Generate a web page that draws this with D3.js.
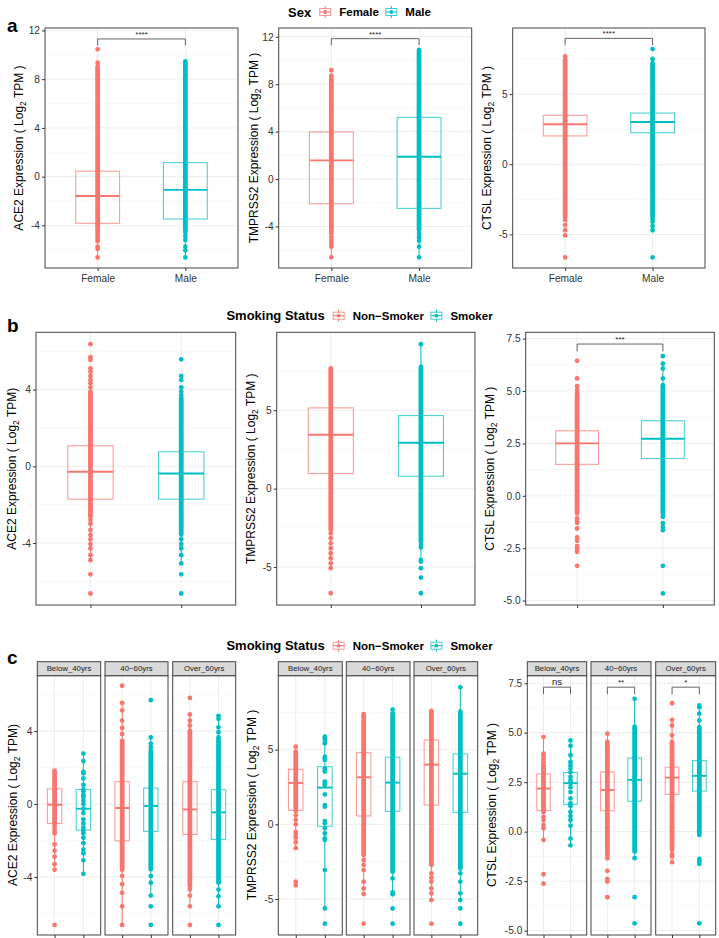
<!DOCTYPE html>
<html>
<head>
<meta charset="utf-8">
<script src="https://cdn.jsdelivr.net/npm/d3@7"></script>
<style>
  body { margin: 0; background: #fff; }
  svg { display: block; }
  text { font-family: "Liberation Sans", Arial, sans-serif; }
</style>
</head>
<body>
<div id="chart"></div>
<script>
// Figure size
const W = 719, H = 938;
const red = "#F8766D", teal = "#00BFC4";

// Group levels
const sexLevels = ["Female", "Male"];
const smokeLevels = ["Non−Smoker", "Smoker"];
const ageLevels = ["Below_40yrs", "40−60yrs", "Over_60yrs"];

// Tick values / labels
const ticks4 = [-4, 0, 4, 8, 12];
const ticks4Labels = ["-4", "0", "4", "8", "12"];
const ticksAce2 = [-4, 0, 4];
const ticksAce2Labels = ["-4", "0", "4"];
const ticks5 = [-5, 0, 5];
const ticks5Labels = ["-5", "0", "5"];
const ticksCtsl = [-5, -2.5, 0, 2.5, 5, 7.5];
const ticksCtslLabels = ["-5.0", "-2.5", "0.0", "2.5", "5.0", "7.5"];

// ---- panel a (Sex) ----  box = [whiskerLow, q1, median, q3, whiskerHigh]
const aAce2Box = [[-6.63, -3.83, -1.59, 0.44, 6.8], [-6.63, -3.48, -1.09, 1.15, 8.0]];
const aAce2Dense = [[-4.5, 9.05], [-4.4, 9.3]];
const aAce2Pts = [[10.45, 9.35, -4.7, -4.9, -5.1, -5.3, -5.75, -5.95, -6.63],
                  [9.45, -4.6, -4.9, -5.2, -5.75, -6.05, -6.63]];
const aTmpBox = [[-6.63, -2.08, 1.58, 3.97, 9.18], [-6.6, -2.47, 1.88, 5.2, 10.95]];
const aTmpDense = [[-4.6, 8.45], [-4.3, 10.9]];
const aTmpPts = [[9.18, 8.7, -4.9, -5.2, -5.45, -5.7, -6.6], [-4.6, -4.9, -5.2, -5.7, -6.6]];
const aCtslBox = [[-0.18, 2.02, 2.85, 3.49, 5.7], [0.15, 2.25, 3.01, 3.65, 5.75]];
const aCtslDense = [[-3.75, 7.45], [-3.7, 7.2]];
const aCtslPts = [[7.69, -3.98, -4.33, -4.7, -5.07, -6.64], [8.21, 7.5, -3.9, -4.1, -4.4, -4.7, -6.64]];
const aSigY = [11.3, 11.84, 8.97];
const aSig = ["****", "****", "****"];

// ---- panel b (Smoking) ----
const bAce2Box = [[-4.89, -1.71, -0.28, 1.07, 5.11], [-5.06, -1.71, -0.37, 0.76, 4.12]];
const bAce2Dense = [[-2.63, 3.9], [-3.55, 3.55]];
const bAce2Pts = [[6.37, 5.69, 5.55, 5.11, 4.94, 4.71, 4.5, 4.33, 4.12, -2.8, -3.0, -3.32, -3.58, -3.8, -4.05, -4.28, -4.63, -4.89, -5.63, -6.63],
                  [5.58, 4.71, 4.5, 4.12, 3.9, 3.7, -3.8, -4.05, -4.28, -4.63, -5.06, -5.63, -6.63]];
const bTmpBox = [[-5.07, 0.96, 3.44, 5.15, 7.66], [-4.76, 0.79, 2.93, 4.66, 9.21]];
const bTmpDense = [[-2.63, 7.66], [-3.38, 7.77]];
const bTmpPts = [[-2.85, -3.16, -3.48, -3.8, -4.12, -4.44, -4.76, -5.07, -6.67],
                 [9.21, -3.6, -3.75, -4.54, -4.65, -5.07, -5.67, -6.67]];
const bCtslBox = [[-0.84, 1.5, 2.5, 3.1, 5.23], [-0.84, 1.78, 2.72, 3.58, 6.31]];
const bCtslDense = [[-0.84, 4.88], [-0.84, 5.28]];
const bCtslPts = [[6.44, 5.6, 5.23, 5.04, -1.08, -1.19, -1.29, -1.56, -1.99, -2.15, -2.4, -2.51, -2.67, -3.34],
                  [6.66, 6.31, 6.07, 5.6, -1.0, -1.3, -1.48, -1.64, -3.34, -4.66]];
const bSigY = 7.24;
const bSig = "***";

// ---- panel c (Smoking x Age), order: Below NS, Below S, 40-60 NS, 40-60 S, Over NS, Over S ----
const cAce2Box = [[-3.61, -1.07, -0.04, 0.83, 1.83], [-3.83, -1.43, -0.26, 0.8, 2.76],
                  [-6.63, -2.02, -0.22, 1.22, 5.54], [-5.02, -1.5, -0.11, 0.87, 3.65],
                  [-5.61, -1.67, -0.3, 1.22, 4.91], [-5.61, -1.94, -0.46, 0.78, 4.83]];
const cAce2Dense = [[-1.1, 1.83], null, [-3.6, 3.46], [-3.57, 2.9], [-4.5, 4.02], [-4.31, 3.65]];
const cAce2Pts = [
  [-1.25, -1.44, -1.6, -2.22, -2.56, -2.89, -3.3, -3.61, -6.63],
  [2.76, 2.35, 1.76, 1.69, 1.4, 1.05, 0.8, 0.7, 0.5, 0.4, 0.2, 0.0, -0.26, -0.5, -0.85, -1.07, -1.3, -1.45, -1.6, -1.85, -2.15, -2.5, -2.7, -3.09, -3.83],
  [6.48, 5.54, 5.13, 4.57, 4.17, 3.83, -3.94, -4.4, -4.87, -5.61, -6.63],
  [5.69, 3.65, 3.31, 3.1, -3.94, -4.31, -5.02, -5.61, -6.63],
  [5.81, 4.91, 4.57, 4.3, -4.69, -5.02, -5.61, -6.63],
  [4.83, 4.67, 4.2, 3.93, -4.69, -5.06, -5.61, -6.63]];
const cTmpBox = [[-1.6, 0.94, 2.77, 3.68, 5.2], [-5.63, -0.13, 2.46, 3.86, 5.87],
                 [-4.67, 0.56, 3.15, 4.8, 7.37], [-4.55, 0.87, 2.79, 4.49, 7.68],
                 [-5.07, 1.29, 4.0, 5.65, 7.59], [-5.07, 0.8, 3.39, 4.71, 9.17]];
const cTmpDense = [[0.9, 4.87], null, [-2.05, 7.37], [-3.17, 7.43], [-2.72, 7.59], [-2.95, 7.54]];
const cTmpPts = [
  [5.2, 0.6, 0.3, 0.0, -0.5, -0.7, -0.9, -1.2, -1.6, -3.84, -4.08],
  [5.87, 5.75, 5.65, 5.42, 4.53, 4.4, 4.31, 3.75, 3.6, 3.53, 2.86, 2.75, 2.63, 2.0, 1.29, 1.18, 0.22, 0.07, -0.27, -0.6, -0.94, -1.05, -3.06, -5.63, -6.65],
  [-2.39, -2.72, -3.06, -3.84, -4.29, -4.67, -6.65],
  [7.68, -3.62, -4.55, -4.69, -5.63, -6.65],
  [-3.28, -3.57, -3.84, -4.29, -4.62, -5.07, -6.65],
  [9.17, -3.28, -3.84, -4.62, -5.07, -5.63, -6.65]];
const cCtslBox = [[-0.42, 1.07, 2.18, 2.92, 4.78], [-0.69, 1.38, 2.45, 2.99, 4.61],
                  [-1.34, 1.06, 2.11, 3.02, 4.95], [-1.34, 1.54, 2.62, 3.72, 6.71],
                  [-1.54, 1.88, 2.73, 3.26, 5.65], [-0.17, 2.05, 2.82, 3.59, 6.38]];
const cCtslDense = [[1.0, 3.36], null, [-1.17, 4.53], [-1.0, 5.3], [-0.92, 4.53], [-0.17, 5.28]];
const cCtslPts = [
  [4.78, 3.94, 3.86, 3.69, 3.52, 0.75, 0.59, 0.34, 0.17, -0.42, -2.15, -2.63],
  [4.61, 4.33, 3.86, 3.52, 3.35, 3.19, 3.0, 2.77, 2.6, 2.45, 2.25, 2.0, 1.68, 1.43, 1.3, 1.0, 0.79, 0.59, 0.3, -0.35, -0.69],
  [4.95, -1.34, -1.98, -2.38, -2.52, -3.31],
  [6.71, -1.34, -3.31, -4.63],
  [6.49, 5.65, 5.37, 4.87, -1.14, -1.26, -1.54],
  [6.38, 6.29, 5.96, 5.62, -1.38, -1.51, -1.63, -4.63]];
const cSigY = 7.3;
const cSig = ["ns", "**", "*"];

const FONT = "Liberation Sans, Arial, sans-serif";
const R = 2.4;

const svg = d3.select("#chart").append("svg")
  .attr("width", W).attr("height", H);

// Draw one boxplot panel
function drawPanel(o) {
  const g = svg.append("g");
  const x = d3.scalePoint().domain(o.levels).range([o.x0, o.x1]).padding(0.6);
  const y = d3.scaleLinear().domain(o.domain).range([o.y1, o.y0]);
  const bw = x.step() * 0.5;
  const cols = [red, teal];

  // minor grid lines half way between major ticks
  const step = o.ticks[1] - o.ticks[0];
  const minor = [];
  for (let v = o.ticks[0] - step / 2; v <= o.domain[1]; v += step) {
    if (v >= o.domain[0]) minor.push(v);
  }
  g.selectAll("line.minor").data(minor).join("line").attr("class", "minor")
    .attr("x1", o.x0).attr("x2", o.x1).attr("y1", d => y(d)).attr("y2", d => y(d))
    .attr("stroke", "#f3f3f3").attr("stroke-width", 0.6);
  g.selectAll("line.major").data(o.ticks).join("line").attr("class", "major")
    .attr("x1", o.x0).attr("x2", o.x1).attr("y1", d => y(d)).attr("y2", d => y(d))
    .attr("stroke", "#ebebeb").attr("stroke-width", 0.9);
  g.selectAll("line.vmajor").data(o.levels).join("line").attr("class", "vmajor")
    .attr("x1", d => x(d)).attr("x2", d => x(d)).attr("y1", o.y0).attr("y2", o.y1)
    .attr("stroke", "#ebebeb").attr("stroke-width", 0.9);

  o.levels.forEach((lev, i) => {
    const col = cols[i];
    const cx = x(lev);
    const [lo, q1, md, q3, hi] = o.box[i];
    const gg = g.append("g");
    gg.append("line").attr("x1", cx).attr("x2", cx).attr("y1", y(hi)).attr("y2", y(q3))
      .attr("stroke", col).attr("stroke-width", 1);
    gg.append("line").attr("x1", cx).attr("x2", cx).attr("y1", y(q1)).attr("y2", y(lo))
      .attr("stroke", col).attr("stroke-width", 1);
    gg.append("rect").attr("x", cx - bw / 2).attr("y", y(q3))
      .attr("width", bw).attr("height", y(q1) - y(q3))
      .attr("fill", "none").attr("stroke", col).attr("stroke-opacity", 0.7).attr("stroke-width", 1.1);
    gg.append("line").attr("x1", cx - bw / 2).attr("x2", cx + bw / 2)
      .attr("y1", y(md)).attr("y2", y(md))
      .attr("stroke", col).attr("stroke-width", 1.9);
    // dense run of overlapping points
    if (o.dense[i]) {
      gg.append("line").attr("x1", cx).attr("x2", cx)
        .attr("y1", y(o.dense[i][0])).attr("y2", y(o.dense[i][1]))
        .attr("stroke", col).attr("stroke-width", R * 2).attr("stroke-linecap", "round");
    }
    gg.selectAll("circle").data(o.pts[i]).join("circle")
      .attr("cx", cx).attr("cy", d => y(d)).attr("r", R).attr("fill", col);
  });

  // significance bracket
  if (o.sig) {
    const by = y(o.sig.y), tip = (o.y1 - o.y0) * 0.027;
    const xa = x(o.levels[0]), xb = x(o.levels[1]);
    g.append("path")
      .attr("d", `M${xa},${by + tip}V${by}H${xb}V${by + tip}`)
      .attr("fill", "none").attr("stroke", "#555").attr("stroke-width", 0.9);
    g.append("text").attr("x", (xa + xb) / 2).attr("y", by - 2)
      .attr("text-anchor", "middle").style("font-size", o.sig.size + "px")
      .attr("fill", "#222").text(o.sig.label);
  }

  // panel border
  g.append("rect").attr("x", o.x0).attr("y", o.y0)
    .attr("width", o.x1 - o.x0).attr("height", o.y1 - o.y0)
    .attr("fill", "none").attr("stroke", "#444").attr("stroke-width", 1);

  // facet strip
  if (o.strip) {
    g.append("rect").attr("x", o.x0).attr("y", o.stripY)
      .attr("width", o.x1 - o.x0).attr("height", o.y0 - o.stripY)
      .attr("fill", "#d9d9d9").attr("stroke", "#444").attr("stroke-width", 1);
    g.append("text").attr("x", (o.x0 + o.x1) / 2).attr("y", (o.stripY + o.y0) / 2)
      .attr("dy", "0.35em").attr("text-anchor", "middle")
      .style("font-size", "7.8px").attr("fill", "#1a1a1a").text(o.strip);
  }

  // axes
  if (o.yAxis) {
    const ax = g.append("g").attr("transform", `translate(${o.x0},0)`)
      .call(d3.axisLeft(y).tickValues(o.ticks).tickFormat((d, i) => o.tickLabels[i])
        .tickSize(3).tickPadding(2));
    ax.attr("font-family", FONT).attr("font-size", 10.2);
    ax.select(".domain").remove();
    ax.selectAll("line").attr("stroke", "#333");
    ax.selectAll("text").attr("fill", "#333");
  }
  const bx = g.append("g").attr("transform", `translate(0,${o.y1})`)
    .call(d3.axisBottom(x).tickSize(3).tickPadding(3.5)
      .tickFormat(o.xLabels ? (d => d) : ""));
  bx.attr("font-family", FONT).attr("font-size", 10.2);
  bx.select(".domain").remove();
  bx.selectAll("line").attr("stroke", "#333");
  bx.selectAll("text").attr("fill", "#333");
}

// Rotated y title with Log2 subscript
function yTitle(xc, yc, gene, tight) {
  const t = svg.append("text")
    .attr("transform", `translate(${xc},${yc}) rotate(-90)`)
    .attr("text-anchor", "middle").attr("dy", "0.35em")
    .style("font-size", "12px").attr("fill", "#000");
  t.append("tspan").text(gene + " Expression ( Log");
  t.append("tspan").attr("dy", 3).style("font-size", "8.5px").text("2");
  t.append("tspan").attr("dy", -3).text(tight ? " TPM)" : " TPM )");
}

// Legend centred over the figure
function legend(yc, title, labels) {
  const g = svg.append("g");
  const t = g.append("text").attr("x", 0).attr("y", yc).attr("dy", "0.35em")
    .style("font-weight", "bold").style("font-size", "13px").text(title);
  let cx = t.node().getComputedTextLength() + 8;
  labels.forEach((lab, i) => {
    const col = [red, teal][i];
    const kx = cx + 6;
    g.append("line").attr("x1", kx).attr("x2", kx).attr("y1", yc - 6).attr("y2", yc + 6)
      .attr("stroke", col).attr("stroke-width", 1);
    g.append("rect").attr("x", kx - 5.5).attr("y", yc - 3.5).attr("width", 11).attr("height", 7)
      .attr("fill", "#fff").attr("stroke", col).attr("stroke-opacity", 0.75);
    g.append("line").attr("x1", kx - 5.5).attr("x2", kx + 5.5).attr("y1", yc).attr("y2", yc)
      .attr("stroke", col).attr("stroke-width", 1);
    g.append("circle").attr("cx", kx).attr("cy", yc).attr("r", 1.9).attr("fill", col);
    cx += 12 + 8;
    const tt = g.append("text").attr("x", cx).attr("y", yc).attr("dy", "0.35em")
      .style("font-weight", "bold").style("font-size", "11.5px").text(lab);
    cx += tt.node().getComputedTextLength() + 6.5;
  });
  const total = cx - 6.5;
  g.attr("transform", `translate(${W / 2 - total / 2},0)`);
}

function panelLabel(x, y, s) {
  svg.append("text").attr("x", x).attr("y", y)
    .style("font-weight", "bold").style("font-size", "19px").text(s);
}

// ===== a =====
panelLabel(7, 31.5, "a");
legend(12, "Sex", sexLevels);
drawPanel({ x0: 45, x1: 238, y0: 28, y1: 268, domain: [-7.5, 12.2], ticks: ticks4, tickLabels: ticks4Labels,
  levels: sexLevels, box: aAce2Box, dense: aAce2Dense, pts: aAce2Pts, yAxis: true, xLabels: true,
  sig: { y: aSigY[0], label: aSig[0], size: 8 } });
drawPanel({ x0: 278.7, x1: 471.7, y0: 28, y1: 268, domain: [-7.5, 12.74], ticks: ticks4, tickLabels: ticks4Labels,
  levels: sexLevels, box: aTmpBox, dense: aTmpDense, pts: aTmpPts, yAxis: true, xLabels: true,
  sig: { y: aSigY[1], label: aSig[1], size: 8 } });
drawPanel({ x0: 512.7, x1: 705, y0: 28, y1: 268, domain: [-7.39, 9.71], ticks: ticks5, tickLabels: ticks5Labels,
  levels: sexLevels, box: aCtslBox, dense: aCtslDense, pts: aCtslPts, yAxis: true, xLabels: true,
  sig: { y: aSigY[2], label: aSig[2], size: 8 } });
yTitle(19, 148, "ACE2", false);
yTitle(253.3, 148, "TMPRSS2", false);
yTitle(487, 148, "CTSL", false);

// ===== b =====
panelLabel(7, 332, "b");
legend(315.7, "Smoking Status", smokeLevels);
drawPanel({ x0: 36, x1: 235.7, y0: 332.3, y1: 605, domain: [-7.23, 6.99], ticks: ticksAce2, tickLabels: ticksAce2Labels,
  levels: smokeLevels, box: bAce2Box, dense: bAce2Dense, pts: bAce2Pts, yAxis: true, xLabels: false });
drawPanel({ x0: 276.7, x1: 475, y0: 332.3, y1: 605, domain: [-7.42, 9.97], ticks: ticks5, tickLabels: ticks5Labels,
  levels: smokeLevels, box: bTmpBox, dense: bTmpDense, pts: bTmpPts, yAxis: true, xLabels: false });
drawPanel({ x0: 525.7, x1: 714.3, y0: 332.3, y1: 605, domain: [-5.21, 7.8], ticks: ticksCtsl, tickLabels: ticksCtslLabels,
  levels: smokeLevels, box: bCtslBox, dense: bCtslDense, pts: bCtslPts, yAxis: true, xLabels: false,
  sig: { y: bSigY, label: bSig, size: 8 } });
yTitle(12, 468.7, "ACE2", true);
yTitle(251, 468.7, "TMPRSS2", false);
yTitle(489.7, 468.7, "CTSL", false);

// ===== c =====
panelLabel(7, 663.5, "c");
legend(645.7, "Smoking Status", smokeLevels);
const cRows = [
  { xs: [[37.3, 100.7], [105, 168], [172.7, 235.7]], domain: [-7.18, 7.03], ticks: ticksAce2, labels: ticksAce2Labels,
    box: cAce2Box, dense: cAce2Dense, pts: cAce2Pts, sig: false },
  { xs: [[278.3, 342.3], [346.3, 410], [414, 477.7]], domain: [-7.41, 9.95], ticks: ticks5, labels: ticks5Labels,
    box: cTmpBox, dense: cTmpDense, pts: cTmpPts, sig: false },
  { xs: [[527.3, 586.7], [591, 651], [655.7, 715.7]], domain: [-5.22, 7.88], ticks: ticksCtsl, labels: ticksCtslLabels,
    box: cCtslBox, dense: cCtslDense, pts: cCtslPts, sig: true }
];
cRows.forEach(row => {
  ageLevels.forEach((age, f) => {
    drawPanel({ x0: row.xs[f][0], x1: row.xs[f][1], y0: 675.7, y1: 935, stripY: 661.7, strip: age,
      domain: row.domain, ticks: row.ticks, tickLabels: row.labels, levels: smokeLevels,
      box: row.box.slice(f * 2, f * 2 + 2), dense: row.dense.slice(f * 2, f * 2 + 2),
      pts: row.pts.slice(f * 2, f * 2 + 2), yAxis: f === 0, xLabels: false,
      sig: row.sig ? { y: cSigY, label: cSig[f], size: f === 0 ? 9.5 : 8 } : null });
  });
});
yTitle(12.3, 805, "ACE2", true);
yTitle(251.7, 805, "TMPRSS2", false);
yTitle(491.7, 805, "CTSL", false);
</script>
</body>
</html>
